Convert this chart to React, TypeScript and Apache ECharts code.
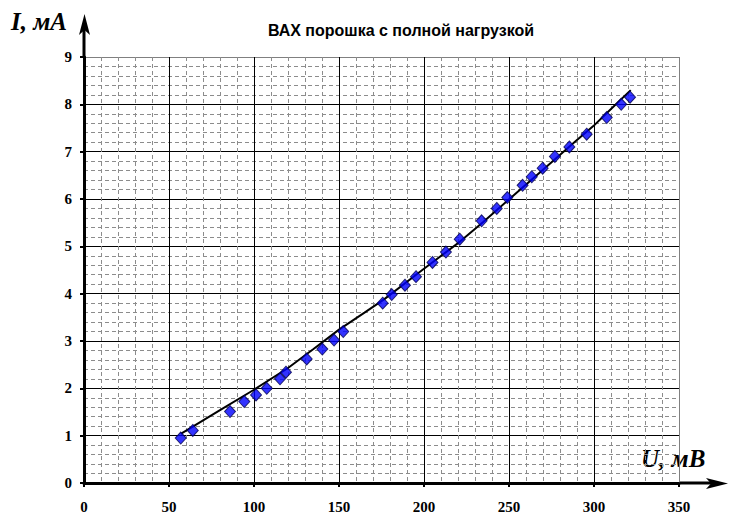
import React, { useEffect, useRef } from "react";
import * as echarts from "echarts";

const uValues = [56.9, 64.0, 85.9, 94.3, 101.2, 107.5, 115.3, 118.8, 131.0, 140.2, 147.1, 152.5, 175.7, 181.0, 188.8, 195.3, 205.0, 212.9, 221.0, 233.9, 242.8, 249.0, 258.0, 263.4, 269.8, 277.0, 285.5, 295.7, 307.5, 316.0, 321.2];
const iValues = [0.95, 1.11, 1.51, 1.72, 1.86, 2.0, 2.2, 2.34, 2.62, 2.83, 3.02, 3.2, 3.8, 3.98, 4.18, 4.36, 4.66, 4.88, 5.15, 5.54, 5.8, 6.03, 6.29, 6.47, 6.65, 6.9, 7.1, 7.37, 7.72, 8.0, 8.15];

const trendU = [56.9, 64.0, 80, 100, 120, 135, 150, 165, 176.5, 199, 221.2, 235, 250.6, 270, 289.8, 299.6, 310, 321.6];
const trendI = [1.04, 1.19, 1.54, 1.97, 2.43, 2.83, 3.24, 3.6, 3.88, 4.5, 5.1, 5.52, 6.01, 6.62, 7.24, 7.54, 7.9, 8.3];

const xTicks = [0, 50, 100, 150, 200, 250, 300, 350];
const yTicks = [0, 1, 2, 3, 4, 5, 6, 7, 8, 9];

const titleText = "ВАХ порошка с полной нагрузкой";
const yName = "I, мА";
const xName = "U, мВ";

export default function App() {
  const ref = useRef<HTMLDivElement>(null);
  useEffect(() => {
    document.body.style.margin = "0";
    const chart = echarts.init(ref.current!, null, { renderer: "svg" });
    const labelFont = {
      fontFamily: "'Liberation Serif', 'Times New Roman', serif",
      fontWeight: "bold" as const,
      fontSize: 15,
      color: "#000",
    };
    const yColors = yTicks.map((t, i) => (i === yTicks.length - 1 ? "#808080" : "#000"));
    const xColors = xTicks.map((t, i) => (i === xTicks.length - 1 ? "#808080" : "#000"));
    chart.setOption({
      animation: false,
      backgroundColor: "#fff",
      grid: { left: 84, right: 55, top: 57, bottom: 45, containLabel: false },
      title: {
        text: titleText,
        left: 396,
        top: 17,
        textAlign: "center",
        textStyle: {
          fontFamily: "'Liberation Sans', Arial, sans-serif",
          fontWeight: "bold",
          fontSize: 16,
          color: "#000",
        },
      },
      xAxis: {
        type: "value",
        min: xTicks[0],
        max: xTicks[xTicks.length - 1],
        interval: 50,
        axisLine: { show: true, lineStyle: { color: "#000", width: 3 } },
        axisTick: { show: true, length: 4, lineStyle: { color: "#000", width: 2 } },
        axisLabel: { ...labelFont, margin: 16 },
        splitLine: { show: true, lineStyle: { color: xColors, width: 1 } },
        minorTick: { show: false, splitNumber: 5 },
        minorSplitLine: { show: true, lineStyle: { color: "#8c8c8c", width: 1, type: [4, 3] } },
      },
      yAxis: {
        type: "value",
        min: yTicks[0],
        max: yTicks[yTicks.length - 1],
        interval: 1,
        axisLine: { show: true, lineStyle: { color: "#000", width: 3 } },
        axisTick: { show: true, length: 4, lineStyle: { color: "#000", width: 2 } },
        axisLabel: { ...labelFont, margin: 12 },
        splitLine: { show: true, lineStyle: { color: yColors, width: 1 } },
        minorTick: { show: false, splitNumber: 5 },
        minorSplitLine: { show: true, lineStyle: { color: "#8c8c8c", width: 1, type: [4, 3] } },
      },
      series: [
        {
          type: "line",
          data: trendU.map((u, i) => [u, trendI[i]]),
          showSymbol: false,
          symbol: "none",
          lineStyle: { color: "#000", width: 2 },
          z: 2,
          silent: true,
        },
        {
          type: "scatter",
          data: uValues.map((u, i) => [u, iValues[i]]),
          symbol: "diamond",
          symbolSize: [11, 12],
          itemStyle: { color: "#0000ff", borderColor: "#000050", borderWidth: 1 },
          z: 3,
        },
      ],
      graphic: [
        { type: "line", shape: { x1: 84, y1: 57, x2: 84, y2: 28 }, style: { stroke: "#000", lineWidth: 3 } },
        { type: "polygon", shape: { points: [[84.5, 14], [79, 35], [84.5, 30], [90, 35]] }, style: { fill: "#000" } },
        { type: "line", shape: { x1: 679, y1: 483, x2: 714, y2: 483 }, style: { stroke: "#000", lineWidth: 3 } },
        { type: "polygon", shape: { points: [[728, 483.5], [706, 478], [711, 483.5], [706, 489]] }, style: { fill: "#000" } },
        {
          type: "text",
          left: 11,
          top: 9,
          style: {
            text: yName,
            font: "italic bold 25px 'Liberation Serif', 'Times New Roman', serif",
            fill: "#000",
          },
        },
        {
          type: "text",
          left: 641,
          top: 446,
          style: {
            text: xName,
            font: "italic bold 25px 'Liberation Serif', 'Times New Roman', serif",
            fill: "#000",
          },
        },
      ],
    });
    return () => chart.dispose();
  }, []);
  return <div ref={ref} style={{ width: 734, height: 528 }} />;
}
